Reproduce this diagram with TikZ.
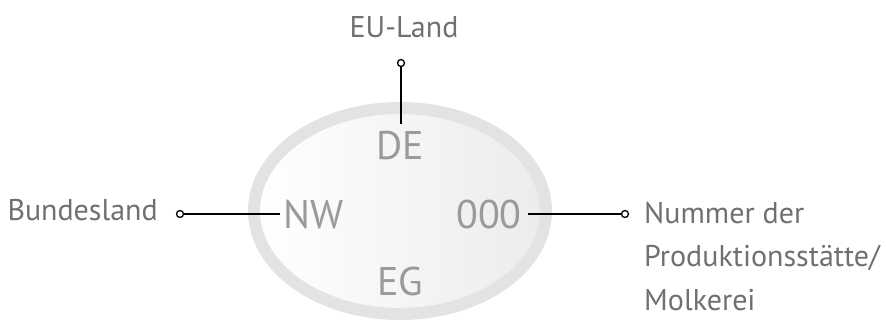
\documentclass[tikz,border=0pt]{standalone}
\usepackage{fontspec}
\setmainfont{PT Sans}
\usetikzlibrary{shapes.geometric}
\definecolor{ringgray}{HTML}{E3E3E3}
\definecolor{codegray}{HTML}{9A9A9A}
\definecolor{labelgray}{HTML}{707070}
\tikzset{
  code/.style={font=\fontsize{40}{40}\selectfont, text=codegray, inner sep=0pt},
  lbl/.style={font=\fontsize{30}{44}\selectfont, text=labelgray, inner sep=0pt},
  conn/.style={line width=1.5pt, black},
  pin/.style={circle, draw=black, fill=white, line width=1.3pt, minimum size=7pt, inner sep=0pt},
}
\begin{document}
\begin{tikzpicture}[x=1pt,y=-1pt]
\useasboundingbox (0,0) rectangle (886,320);
\shade[left color=white, right color=ringgray!70] (400,211) ellipse [x radius=146, y radius=103];
\draw[ringgray, line width=12pt] (400,211) ellipse [x radius=146, y radius=103];
\node[code, anchor=base] (DE) at (400,160) {DE};
\node[code, anchor=base] (NW) at (314,229) {NW};
\node[code, anchor=base] (Z) at (489,229) {000};
\node[code, anchor=base] (EG) at (400,295) {EG};
\node[lbl, anchor=base] (EU) at (404,38) {EU-Land};
\node[lbl, anchor=base east] (BL) at (158,221) {Bundesland};
\node[lbl, anchor=base west, align=left] (NR) at (644,311) {Nummer der\\Produktionsstätte/\\Molkerei};
\node[pin] (pt) at (401,63) {};
\node[pin] (pl) at (180,214) {};
\node[pin] (pr) at (625,214) {};
\coordinate (et) at (401,124);
\coordinate (el) at (280,214);
\coordinate (er) at (528,214);
\draw[conn] (pt) -- (et);
\draw[conn] (pl) -- (el);
\draw[conn] (er) -- (pr);
\end{tikzpicture}
\end{document}
